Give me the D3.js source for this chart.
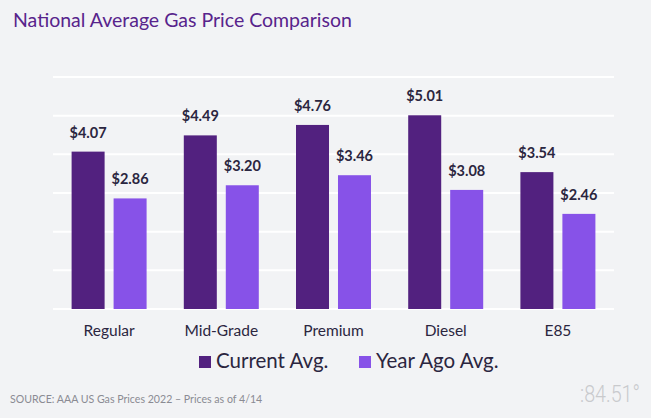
<!DOCTYPE html>
<html><head><meta charset="utf-8">
<script src="https://cdn.jsdelivr.net/npm/d3@7"></script>
<style>
html,body{margin:0;padding:0;background:#f2f3f5;}
svg{display:block;font-family:"Lato","Noto Sans",sans-serif;}
</style></head>
<body><svg id="c" width="651" height="418"></svg>
<script>
const categories = ["Regular","Mid-Grade","Premium","Diesel","E85"];
const seriesNames = ["Current Avg.","Year Ago Avg."];
const currentAvg = [4.07,4.49,4.76,5.01,3.54];
const yearAgoAvg = [2.86,3.20,3.46,3.08,2.46];
const yTicks = [0,1,2,3,4,5,6];
const colors = ["#52217f","#8752e8"];

const svg = d3.select("#c");
const W=651,H=418;
svg.append("rect").attr("width",W).attr("height",H).attr("fill","#f2f3f5");

const x0 = d3.scaleBand().domain(categories).range([53,614]).padding(0);
const x1 = d3.scaleBand().domain(seriesNames).range([0,x0.bandwidth()]).paddingInner(0.214).paddingOuter(0.443);
const y = d3.scaleLinear().domain([0,6]).range([309,77]);

// gridlines
svg.append("g").selectAll("line").data(yTicks).join("line")
  .attr("x1",53).attr("x2",614)
  .attr("y1",d=>y(d)).attr("y2",d=>y(d))
  .attr("stroke","#ffffff").attr("stroke-width",2);

const data = categories.map((c,i)=>({cat:c, vals:[currentAvg[i],yearAgoAvg[i]]}));
const g = svg.append("g").selectAll("g").data(data).join("g")
  .attr("transform",d=>`translate(${x0(d.cat)},0)`);
g.selectAll("rect").data(d=>d.vals.map((v,j)=>({v,s:seriesNames[j],j}))).join("rect")
  .attr("x",d=>x1(d.s)).attr("width",x1.bandwidth())
  .attr("y",d=>y(d.v)).attr("height",d=>y(0)-y(d.v))
  .attr("fill",d=>colors[d.j]);
g.selectAll("text.v").data(d=>d.vals.map((v,j)=>({v,s:seriesNames[j],j}))).join("text")
  .attr("class","v")
  .attr("x",d=>x1(d.s)+x1.bandwidth()/2).attr("y",d=>y(d.v)-14)
  .attr("text-anchor","middle").attr("font-size",14.5).attr("font-weight",700)
  .attr("fill","#2b2640").text(d=>"$"+d.v.toFixed(2));

// x axis labels
const xAxis = d3.axisBottom(x0).tickSize(0).tickPadding(0);
const ax = svg.append("g").attr("transform","translate(0,336)").call(xAxis);
ax.select(".domain").remove();
ax.selectAll("text").attr("font-size",15.5).attr("fill","#2b2640").attr("font-family","Lato,'Noto Sans',sans-serif").attr("dy","0");

// legend
const legX=[199,359];
const leg = svg.append("g").selectAll("g").data(seriesNames).join("g")
  .attr("transform",(d,i)=>`translate(${legX[i]},356)`);
leg.append("rect").attr("width",12).attr("height",12).attr("fill",(d,i)=>colors[i]);
leg.append("text").attr("x",17).attr("y",11.5).attr("font-size",20.5).attr("fill","#2b2640").text(d=>d);

// title
svg.append("text").attr("x",13).attr("y",27).attr("font-size",19.5).attr("fill","#58248c").text("National Average Gas Price Comparison");

// source
svg.append("text").attr("x",10).attr("y",403).attr("font-size",10.6).attr("fill","#8a8b93").text("SOURCE: AAA US Gas Prices 2022 \u2013 Prices as of 4/14");

// logo
svg.append("text").attr("x",640).attr("y",402).attr("text-anchor","end").attr("font-size",23).attr("font-weight",300)
  .attr("fill","#c9cacd").attr("font-family","Roboto,'Open Sans',sans-serif")
  .attr("textLength",60).attr("lengthAdjust","spacingAndGlyphs").text(":84.51°");
</script></body></html>
